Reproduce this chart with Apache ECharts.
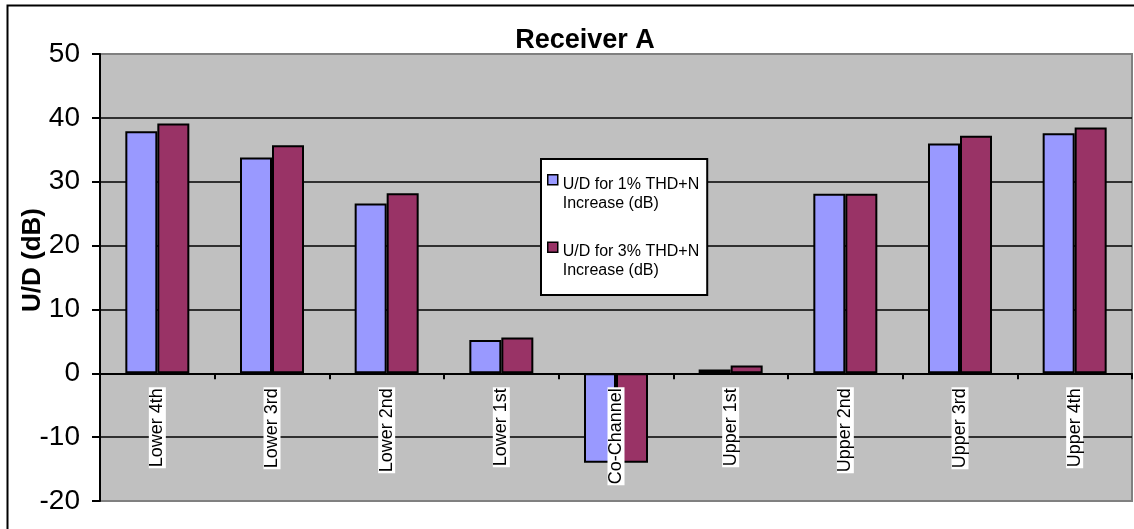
<!DOCTYPE html>
<html>
<head>
<meta charset="utf-8">
<script src="https://cdn.jsdelivr.net/npm/echarts@6/dist/echarts.min.js"></script>
<style>
html,body{margin:0;padding:0;background:#fff;}
#chart{width:1134px;height:529px;}
</style>
</head>
<body>
<div id="chart"></div>
<script>
var categories = ['Lower 4th','Lower 3rd','Lower 2nd','Lower 1st','Co-Channel','Upper 1st','Upper 2nd','Upper 3rd','Upper 4th'];
var seriesNames = ['U/D for 1% THD+N\nIncrease (dB)','U/D for 3% THD+N\nIncrease (dB)'];
var thd1 = [37.9, 33.8, 26.6, 5.2, -14.0, 0.6, 28.1, 36.0, 37.6];
var thd3 = [39.1, 35.7, 28.2, 5.6, -14.0, 1.2, 28.1, 37.2, 38.5];
var yTicks = {min: -20, max: 50, interval: 10};

var FONT = '"Liberation Sans", Arial, sans-serif';
var H = 529, GRID_TOP = 54, GRID_BOTTOM = 28;
var gridH = H - GRID_TOP - GRID_BOTTOM;
// move the category axis up to the value 0 line
var zeroOffset = -((0 - yTicks.min) / (yTicks.max - yTicks.min)) * gridH;

var chart = echarts.init(document.getElementById('chart'), null, {renderer: 'canvas'});
var legendIcon = 'path://M0,0h10v10h-10z M10,38';
chart.setOption({
  animation: false,
  backgroundColor: '#ffffff',
  title: {
    text: 'Receiver A',
    left: 580,
    top: 22,
    textAlign: 'center',
    textStyle: {fontFamily: FONT, fontWeight: 'bold', fontSize: 27, color: '#000'}
  },
  grid: {
    left: 100, right: 2, top: GRID_TOP, bottom: GRID_BOTTOM,
    containLabel: false, outerBoundsMode: 'none',
    show: true, backgroundColor: '#c0c0c0', borderColor: '#808080', borderWidth: 2
  },
  legend: {
    orient: 'vertical',
    left: 541, top: 159,
    backgroundColor: '#ffffff',
    borderColor: '#000', borderWidth: 2,
    padding: [15, 8, 14, 6],
    itemWidth: 10, itemHeight: 38, itemGap: 28,
    icon: legendIcon,
    itemStyle: {borderColor: '#000', borderWidth: 1.5},
    textStyle: {fontFamily: FONT, fontSize: 16, lineHeight: 19, color: '#000'},
    data: seriesNames
  },
  xAxis: {
    type: 'category',
    data: categories,
    position: 'bottom',
    offset: zeroOffset,
    z: 10,
    axisLine: {onZero: false, lineStyle: {color: '#000', width: 2}},
    axisTick: {show: true, length: 6, lineStyle: {color: '#000', width: 2}},
    axisLabel: {
      rotate: 90, margin: 14, interval: 0,
      fontFamily: FONT, fontSize: 18, lineHeight: 17, color: '#000',
      backgroundColor: '#ffffff', padding: [0, 1]
    },
    splitLine: {show: false}
  },
  yAxis: {
    type: 'value',
    min: yTicks.min, max: yTicks.max, interval: yTicks.interval,
    axisLine: {show: true, lineStyle: {color: '#000', width: 2}},
    axisTick: {show: true, length: 8, lineStyle: {color: '#000', width: 2}},
    axisLabel: {margin: 20, fontFamily: FONT, fontSize: 28, color: '#000'},
    splitLine: {show: true, showMinLine: false, showMaxLine: false, lineStyle: {color: '#000', width: 1.5}}
  },
  series: [
    {
      name: seriesNames[0], type: 'bar', data: thd1,
      barWidth: 32, barGap: '0%',
      itemStyle: {color: '#9999ff', borderColor: '#000', borderWidth: 2}
    },
    {
      name: seriesNames[1], type: 'bar', data: thd3,
      barWidth: 32, barGap: '0%',
      itemStyle: {color: '#993366', borderColor: '#000', borderWidth: 2}
    }
  ],
  graphic: [
    {
      type: 'rect', left: 5, top: 3, z: 100, silent: true,
      shape: {x: 0, y: 0, width: 1140, height: 540},
      style: {fill: 'none', stroke: '#000', lineWidth: 2}
    },
    {
      type: 'text', x: 33, y: 260, rotation: Math.PI / 2, z: 100, silent: true,
      style: {text: 'U/D (dB)', font: 'bold 26px ' + FONT, fill: '#000', align: 'center', verticalAlign: 'middle'}
    }
  ]
});
</script>
</body>
</html>
